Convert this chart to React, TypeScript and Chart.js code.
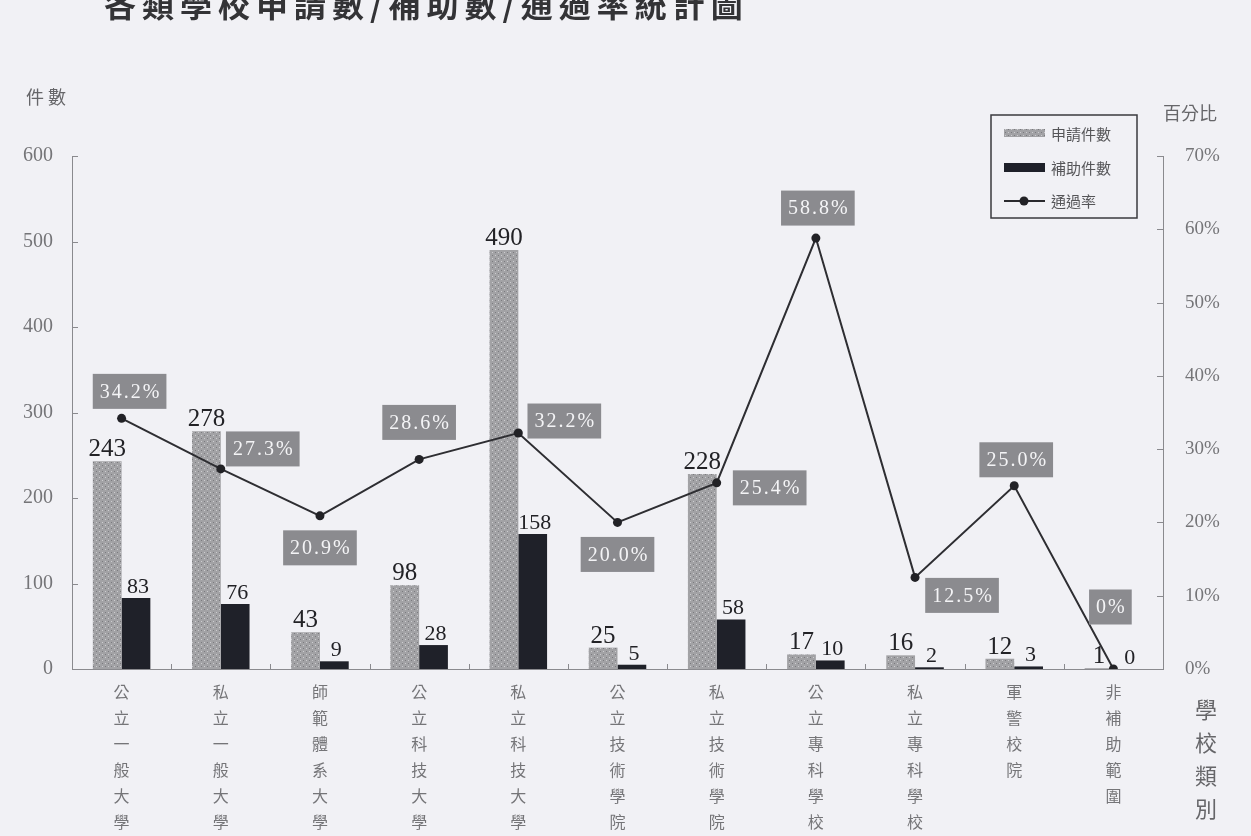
import { useEffect, useRef } from 'react';
import { Chart, registerables } from 'chart.js';

Chart.register(...registerables);

// ---------- data ----------
const categories = [
  '公立一般大學',
  '私立一般大學',
  '師範體系大學',
  '公立科技大學',
  '私立科技大學',
  '公立技術學院',
  '私立技術學院',
  '公立專科學校',
  '私立專科學校',
  '軍警校院',
  '非補助範圍',
];
const applications = [243, 278, 43, 98, 490, 25, 228, 17, 16, 12, 1];
const grants = [83, 76, 9, 28, 158, 5, 58, 10, 2, 3, 0];
const passRate = [34.2, 27.3, 20.9, 28.6, 32.2, 20.0, 25.4, 58.8, 12.5, 25.0, 0];
const seriesNames = ['申請件數', '補助件數', '通過率'];
const titleText = '各類學校申請數/補助數/通過率統計圖';
const leftAxisTitle = '件數';
const rightAxisTitle = '百分比';
const xAxisTitle = '學校類別';

// ---------- style ----------
const BG = '#f1f1f5';
const SERIF = '"Liberation Serif", "DejaVu Serif", serif';
const CJK = '"Noto Sans CJK TC", "Noto Sans CJK SC", sans-serif';
const AXIS = '#8a8a8e';
const TICK_TEXT = '#757578';
// box centre offset from its point (dx, dy)
const rateBoxOffsets: [number, number][] = [
  [8, -27], [42, -20], [0, 32], [0, -37], [46, -12], [0, 32],
  [53, 5], [2, -30], [47, 18], [2, -26], [-3, -62],
];

function makePattern(): CanvasPattern | string {
  const c = document.createElement('canvas');
  c.width = 6;
  c.height = 6;
  const g = c.getContext('2d');
  if (!g) return '#a4a4a6';
  g.fillStyle = '#a2a2a5';
  g.fillRect(0, 0, 6, 6);
  g.fillStyle = '#cdcdd0';
  g.fillRect(0, 0, 1, 1);
  g.fillRect(3, 3, 1, 1);
  g.fillStyle = '#7a7a7e';
  g.fillRect(3, 0, 1, 1);
  g.fillRect(0, 3, 1, 1);
  return g.createPattern(c, 'repeat') || '#a4a4a6';
}

const rateText = (v: number) => (v === 0 ? '0%' : v.toFixed(1) + '%');

export default function App() {
  const ref = useRef<HTMLCanvasElement>(null);

  useEffect(() => {
    const canvas = ref.current;
    if (!canvas) return;
    const pattern = makePattern();

    const decor = {
      id: 'decor',
      afterDatasetsDraw(chart: any) {
        const ctx: CanvasRenderingContext2D = chart.ctx;
        ctx.save();
        // bar value labels
        const m0 = chart.getDatasetMeta(0);
        const m1 = chart.getDatasetMeta(1);
        ctx.fillStyle = '#222226';
        ctx.textAlign = 'center';
        ctx.textBaseline = 'alphabetic';
        m0.data.forEach((el: any, i: number) => {
          ctx.font = `25px ${SERIF}`;
          ctx.fillText(String(applications[i]), el.x, el.y - 5);
        });
        m1.data.forEach((el: any, i: number) => {
          ctx.font = `22px ${SERIF}`;
          ctx.fillText(String(grants[i]), el.x + 2, el.y - 5);
        });
        // rate boxes
        const m2 = chart.getDatasetMeta(2);
        ctx.font = `20px ${SERIF}`;
        (ctx as any).letterSpacing = '2px';
        m2.data.forEach((el: any, i: number) => {
          const t = rateText(passRate[i]);
          const w = ctx.measureText(t).width + 12;
          const h = 35;
          const [dx, dy] = rateBoxOffsets[i];
          const cx = el.x + dx;
          const cy = el.y + dy;
          ctx.fillStyle = '#8b8b8f';
          ctx.fillRect(cx - w / 2, cy - h / 2, w, h);
          ctx.fillStyle = '#f4f4f6';
          ctx.textAlign = 'center';
          ctx.textBaseline = 'middle';
          ctx.fillText(t, cx + 1, cy + 1);
        });
        (ctx as any).letterSpacing = '0px';
        ctx.restore();
      },
      afterDraw(chart: any) {
        const ctx: CanvasRenderingContext2D = chart.ctx;
        const { left, right, bottom } = chart.chartArea;
        const y = chart.scales.y;
        const y1 = chart.scales.y1;
        ctx.save();
        // inward ticks
        ctx.strokeStyle = AXIS;
        ctx.lineWidth = 1;
        ctx.beginPath();
        y.ticks.forEach((t: any) => {
          const py = Math.round(y.getPixelForValue(t.value)) + 0.5;
          ctx.moveTo(left, py);
          ctx.lineTo(left + 6, py);
        });
        y1.ticks.forEach((t: any) => {
          const py = Math.round(y1.getPixelForValue(t.value)) + 0.5;
          ctx.moveTo(right, py);
          ctx.lineTo(right - 6, py);
        });
        const n = categories.length;
        for (let i = 1; i < n; i++) {
          const px = Math.round(left + ((right - left) * i) / n) + 0.5;
          ctx.moveTo(px, bottom);
          ctx.lineTo(px, bottom - 5);
        }
        ctx.stroke();

        // title (partially cut at top)
        ctx.fillStyle = '#333336';
        ctx.font = `bold 32px ${CJK}`;
        (ctx as any).letterSpacing = '6px';
        ctx.textAlign = 'left';
        ctx.textBaseline = 'middle';
        ctx.fillText(titleText, 104, 5);
        (ctx as any).letterSpacing = '4px';

        // axis titles
        ctx.fillStyle = '#666669';
        ctx.font = `18px ${CJK}`;
        ctx.fillText(leftAxisTitle, 26, 97);
        (ctx as any).letterSpacing = '0px';
        ctx.fillText(rightAxisTitle, 1163, 113);
        ctx.font = `22px ${CJK}`;
        ctx.textAlign = 'center';
        xAxisTitle.split('').forEach((ch, i) => {
          ctx.fillText(ch, 1206, 710 + i * 33);
        });

        // legend
        const lx = 991, ly = 115, lw = 146, lh = 103;
        ctx.strokeStyle = '#3a3a3e';
        ctx.lineWidth = 1.5;
        ctx.strokeRect(lx, ly, lw, lh);
        ctx.fillStyle = pattern as any;
        ctx.fillRect(1004, 129, 41, 8);
        ctx.fillStyle = '#1e2029';
        ctx.fillRect(1004, 163, 41, 9);
        ctx.strokeStyle = '#2a2a2e';
        ctx.lineWidth = 2;
        ctx.beginPath();
        ctx.moveTo(1004, 201);
        ctx.lineTo(1045, 201);
        ctx.stroke();
        ctx.fillStyle = '#222226';
        ctx.beginPath();
        ctx.arc(1024, 201, 4.5, 0, Math.PI * 2);
        ctx.fill();
        ctx.fillStyle = '#555558';
        ctx.font = `15px ${CJK}`;
        ctx.textAlign = 'left';
        ctx.textBaseline = 'middle';
        ctx.fillText(seriesNames[0], 1051, 134);
        ctx.fillText(seriesNames[1], 1051, 168);
        ctx.fillText(seriesNames[2], 1051, 201);
        ctx.restore();
      },
    };

    const chart = new Chart(canvas, {
      type: 'bar',
      data: {
        labels: categories.map((c) => c.split('')),
        datasets: [
          {
            type: 'bar',
            label: seriesNames[0],
            data: applications,
            backgroundColor: pattern as any,
            borderColor: '#8a8a8e',
            borderWidth: 0,
            categoryPercentage: 0.58,
            barPercentage: 1.0,
            yAxisID: 'y',
            order: 2,
          },
          {
            type: 'bar',
            label: seriesNames[1],
            data: grants,
            backgroundColor: '#1f2129',
            borderWidth: 0,
            categoryPercentage: 0.58,
            barPercentage: 1.0,
            yAxisID: 'y',
            order: 2,
          },
          {
            type: 'line',
            label: seriesNames[2],
            data: passRate,
            borderColor: '#2e2e32',
            borderWidth: 2,
            backgroundColor: '#222226',
            pointRadius: 4.5,
            pointBackgroundColor: '#222226',
            pointBorderWidth: 0,
            tension: 0,
            yAxisID: 'y1',
            order: 1,
          },
        ] as any,
      },
      options: {
        responsive: false,
        animation: false,
        devicePixelRatio: 1,
        layout: { padding: { top: 156, left: 0, right: 0, bottom: 0 } },
        plugins: {
          legend: { display: false },
          tooltip: { enabled: false },
          title: { display: false },
        },
        scales: {
          x: {
            grid: { display: false },
            border: { display: true, color: AXIS, width: 1 },
            ticks: {
              color: TICK_TEXT,
              font: { family: CJK, size: 16, lineHeight: 26 / 16 },
              padding: 2,
              maxRotation: 0,
              autoSkip: false,
            },
            afterFit: (s: any) => {
              s.height = 167;
            },
          },
          y: {
            position: 'left',
            min: 0,
            max: 600,
            grid: { display: false },
            border: { display: true, color: AXIS, width: 1 },
            ticks: {
              stepSize: 100,
              color: TICK_TEXT,
              font: { family: SERIF, size: 20 },
              padding: 11,
            },
            afterFit: (s: any) => {
              s.width = 72;
            },
          },
          y1: {
            position: 'right',
            min: 0,
            max: 70,
            grid: { display: false },
            border: { display: true, color: AXIS, width: 1 },
            ticks: {
              stepSize: 10,
              color: TICK_TEXT,
              font: { family: SERIF, size: 19 },
              padding: 14,
              callback: (v: any) => v + '%',
            },
            afterFit: (s: any) => {
              s.width = 88;
            },
          },
        },
      } as any,
      plugins: [decor],
    });

    return () => chart.destroy();
  }, []);

  return (
    <div style={{ position: 'fixed', left: 0, top: 0, width: 1251, height: 836, background: BG }}>
      <canvas ref={ref} width={1251} height={836} style={{ display: 'block' }} />
    </div>
  );
}
